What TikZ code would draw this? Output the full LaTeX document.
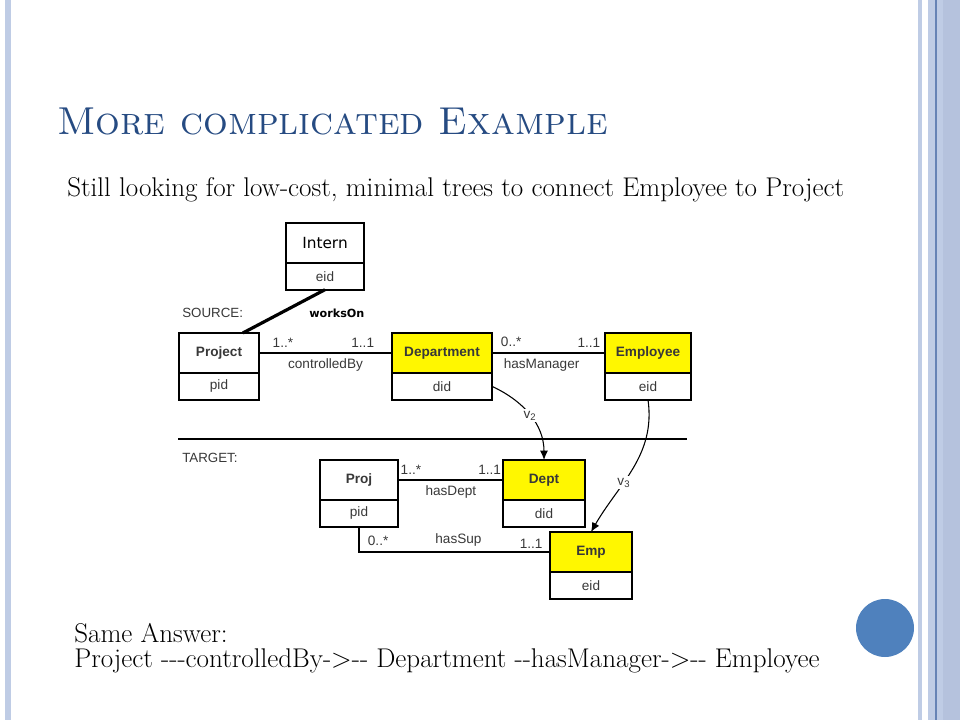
\documentclass[tikz,border=0pt]{standalone}
\usepackage{fontspec}
\newfontfamily\umlfont{Liberation Sans}
\newfontfamily\notefont{DejaVu Sans}
\usetikzlibrary{positioning,arrows.meta}

\definecolor{titleblue}{HTML}{264B82}
\definecolor{umltext}{HTML}{383838}
\definecolor{umlyellow}{HTML}{FFF700}
\definecolor{framelight}{HTML}{BFCCE5}
\definecolor{framemid}{HTML}{B5C2DD}
\definecolor{framedark}{HTML}{6683B5}
\definecolor{accent}{HTML}{4F81BD}

\tikzset{
  classbox/.style={draw, line width=1.5pt, outer sep=0pt, inner sep=0pt,
    minimum height=30pt, text=umltext,
    font=\umlfont\bfseries\fontsize{10.2}{12}\selectfont},
  attrbox/.style={classbox, minimum height=20pt,
    font=\umlfont\fontsize{10.2}{12}\selectfont},
  assoc/.style={line width=1pt,
    nodes={text=umltext, inner sep=2pt, font=\umlfont\fontsize{10.2}{12}\selectfont}},
  mapping/.style={line width=0.8pt, -{Latex[length=7pt,width=6pt]},
    nodes={fill=white, text=umltext, inner sep=1.5pt, font=\umlfont\fontsize{10.2}{12}\selectfont}},
  bodytext/.style={anchor=base west, inner sep=0pt, font=\fontsize{20.3}{24}\selectfont},
  sidetext/.style={anchor=west, inner sep=0pt, text=umltext, font=\umlfont\fontsize{10}{12}\selectfont}
}

\begin{document}
\begin{tikzpicture}[x=0.75pt, y=-0.75pt]
  \useasboundingbox (0,0) rectangle (960,720);
  % slide frame
  \fill[framelight] (5,0) rectangle (11,720);
  \fill[framelight] (918,0) rectangle (922,720);
  \fill[framelight] (928,0) rectangle (960,720);
  \fill[framemid] (943,0) rectangle (960,720);
  \draw[framedark, line width=0.9pt] (936,0) -- (936,720);
  \fill[accent] (885,628) circle[radius=21.75pt];

  % headings
  \node[anchor=base west, inner sep=0pt, text=titleblue, font=\fontsize{29.2}{35}\selectfont]
    (title) at (57,135) {\textsc{More complicated Example}};
  \node[bodytext] (intro) at (67,197)
    {Still looking for low-cost, minimal trees to connect Employee to Project};

  % source schema
  \node[sidetext] (source) at (182,313) {SOURCE:};
  \node[classbox, minimum width=59pt, text=black, font=\notefont\fontsize{11.5}{13}\selectfont]
    (intern) at (325,243) {Intern};
  \node[attrbox, minimum width=59pt, below=0pt of intern] (internattr) {eid};
  \node[classbox, minimum width=60pt] (project) at (219,353) {Project};
  \node[attrbox, minimum width=60pt, below=0pt of project] (projectattr) {pid};
  \node[classbox, minimum width=75pt, fill=umlyellow] (department) at (442,353) {Department};
  \node[attrbox, minimum width=75pt, below=0pt of department] (departmentattr) {did};
  \node[classbox, minimum width=65pt, fill=umlyellow] (employee) at (648,353) {Employee};
  \node[attrbox, minimum width=65pt, below=0pt of employee] (employeeattr) {eid};

  \draw[line width=2.4pt] (project.40) -- (internattr.south);
  \node[anchor=west, inner sep=0pt, font=\notefont\bfseries\fontsize{8.4}{10}\selectfont]
    (workson) at (309,313) {worksOn};
  \draw[assoc] (project.east) -- (department.west)
    node[pos=0.18, above=2pt] {1..*}
    node[pos=0.78, above=2pt] {1..1}
    node[midway, below=2pt] {controlledBy};
  \draw[assoc] (department.east) -- (employee.west)
    node[pos=0.17, above=2pt] {0..*}
    node[pos=0.86, above=2pt] {1..1}
    node[pos=0.44, below=2pt] {hasManager};

  \draw[line width=2pt] (178,439) -- (687,439);

  % target schema
  \node[sidetext] (target) at (182,458) {TARGET:};
  \node[classbox, minimum width=59pt] (proj) at (359,480) {Proj};
  \node[attrbox, minimum width=59pt, below=0pt of proj] (projattr) {pid};
  \node[classbox, minimum width=61pt, fill=umlyellow] (dept) at (544,480) {Dept};
  \node[attrbox, minimum width=61pt, below=0pt of dept] (deptattr) {did};
  \node[classbox, minimum width=61pt, fill=umlyellow] (emp) at (591,552) {Emp};
  \node[attrbox, minimum width=61pt, below=0pt of emp] (empattr) {eid};

  \draw[assoc] (proj.east) -- (dept.west)
    node[pos=0.12, above=2pt] {1..*}
    node[pos=0.87, above=2pt] {1..1}
    node[midway, below=2pt] {hasDept};
  \draw[assoc] (projattr.south) |- (emp.west)
    node[pos=0.55, above=2pt] {0..*}
    node[pos=0.76, above=2pt] {hasSup}
    node[pos=0.95, above=0pt] {1..1};

  % mappings
  \draw[mapping] (departmentattr.east) to[out=-25, in=90]
    node[pos=0.5] {v\textsubscript{2}} (dept.north);
  \draw[mapping] (employeeattr.south) to[out=-82, in=60]
    node[pos=0.62] {v\textsubscript{3}} (emp.north);

  % answer
  \node[bodytext] (answerhead) at (74,642) {Same Answer:};
  \node[bodytext] (answer) at (74,667)
    {Project -{}-{}-controlledBy-{}>-{}- Department -{}-hasManager-{}>-{}- Employee};
\end{tikzpicture}
\end{document}
